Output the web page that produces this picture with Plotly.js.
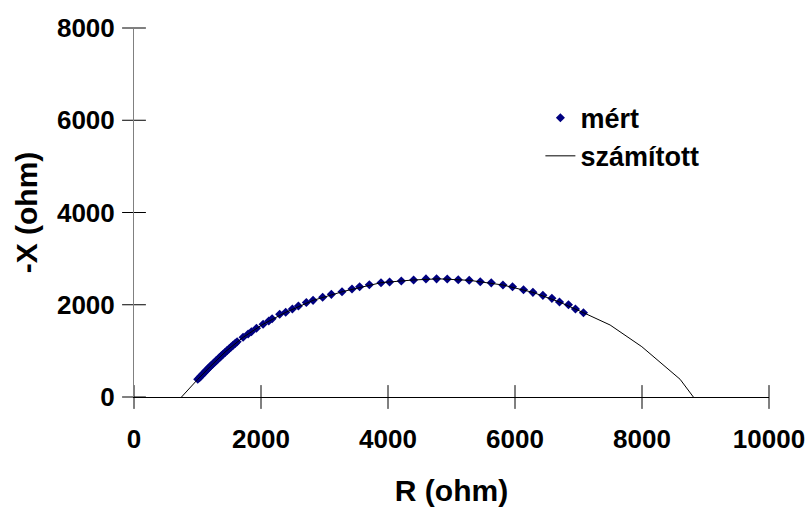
<!DOCTYPE html>
<html>
<head>
<meta charset="utf-8">
<script src="https://cdn.plot.ly/plotly-3.0.1.min.js"></script>
<style>html,body{margin:0;padding:0;background:#fff;}</style>
</head>
<body>
<div id="chart" style="width:810px;height:508px;"></div>
<script>
// Measured impedance points (R, -X) in ohm
const mertR = [1004,1030,1055,1078,1100,1125,1150,1172,1195,1220,1245,1270,1295,1320,1348,1375,1405,1435,1465,1498,1530,1562,1595,1624,
  1718,1797,1849,1928,2033,2122,2175,2294,2389,2494,2589,2714,2820,2971,3108,3276,3433,3553,3706,3890,4025,4210,4403,4598,4765,4933,5106,5279,5453,5626,5810,5961,6134,6282,6439,6581,6701,6842,6952,7078];
const mertX = [384,420,455,488,520,556,590,622,655,688,722,755,788,820,857,892,930,967,1005,1045,1085,1125,1162,1199,
  1294,1366,1416,1489,1576,1648,1698,1793,1836,1908,1973,2050,2095,2161,2226,2283,2341,2391,2435,2478,2493,2515,2537,2560,2562,2558,2543,2530,2500,2475,2428,2391,2326,2269,2204,2139,2060,2001,1908,1828];
// Calculated curve
const szamR = [748,880,1004,1200,1450,1720,2030,2390,2820,3300,3890,4400,4800,5280,5810,6280,6700,7078,7498,7997,8600,8809];
const szamX = [0,200,384,660,995,1295,1576,1836,2095,2290,2478,2537,2562,2530,2428,2269,2060,1828,1561,1091,384,0];

const xTicks = [0,2000,4000,6000,8000,10000];
const yTicks = [0,2000,4000,6000,8000];

const FONT = 'Liberation Sans, Arial, sans-serif';

const traces = [
  {x: mertR, y: mertX, type: 'scatter', mode: 'markers', name: 'mért',
   marker: {symbol: 'diamond', size: 7, color: '#000080'}},
  {x: szamR, y: szamX, type: 'scatter', mode: 'lines', name: 'számított',
   line: {color: '#000000', width: 1}},
  // crossing tick marks on the axes, positioned by the axis scales
  {x: xTicks, y: xTicks.map(() => 0), type: 'scatter', mode: 'markers', cliponaxis: false,
   marker: {symbol: 'line-ns-open', size: 17, color: '#000', line: {color: '#000', width: 1}},
   showlegend: false, hoverinfo: 'skip'},
  {x: yTicks.map(() => 0), y: yTicks, type: 'scatter', mode: 'markers', cliponaxis: false,
   marker: {symbol: 'line-ew-open', size: 17, color: '#000', line: {color: '#000', width: 1}},
   showlegend: false, hoverinfo: 'skip'}
];

const tickFont = {family: FONT, size: 26, color: '#000', weight: 'bold'};
const titleFont = {family: FONT, size: 30, color: '#000', weight: 'bold'};

const layout = {
  width: 810, height: 508,
  margin: {l: 134, r: 41, t: 28, b: 111},
  paper_bgcolor: '#fff', plot_bgcolor: '#fff',
  showlegend: true,
  legend: {x: 0.64, y: 0.822, xanchor: 'left', yanchor: 'top',
           font: {family: FONT, size: 27, color: '#000', weight: 'bold'},
           bgcolor: 'rgba(0,0,0,0)'},
  xaxis: {range: [0, 10000], tickvals: xTicks, ticktext: xTicks.map(String),
          ticks: '', showline: true, linecolor: '#000', linewidth: 1, showgrid: false, zeroline: false,
          tickfont: tickFont, ticklabelstandoff: 19,
          title: {text: 'R (ohm)', font: titleFont, standoff: 26}},
  yaxis: {range: [0, 8000], tickvals: yTicks, ticktext: yTicks.map(String),
          ticks: '', showline: true, linecolor: '#808080', linewidth: 1, showgrid: false, zeroline: false,
          tickfont: tickFont, ticklabelstandoff: 13,
          title: {text: '-X (ohm)', font: titleFont, standoff: 10}}
};

Plotly.newPlot('chart', traces, layout, {displayModeBar: false, staticPlot: true});
</script>
</body>
</html>
